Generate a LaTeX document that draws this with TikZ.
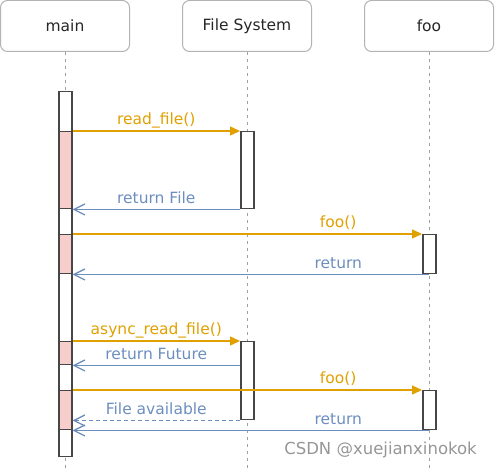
\documentclass[tikz,border=0pt]{standalone}
\usepackage{fontspec}
\setmainfont{DejaVu Sans}
\usetikzlibrary{arrows.meta}

\begin{document}
\begin{tikzpicture}[x=1pt, y=-1pt,
  head/.style={draw=headgray, rounded corners=7pt, line width=1pt, minimum width=129pt, minimum height=51pt, inner sep=0pt, font=\fontsize{15.5}{18}\selectfont, text=black!85},
  life/.style={draw=lifegray, dash pattern=on 3.5pt off 3.5pt, line width=1pt},
  actbar/.style={draw=bargray, fill=white, line width=1.5pt, minimum width=13pt, inner sep=0pt, anchor=north},
  busy/.style={actbar, fill=busypink},
  call/.style={draw=callor, line width=1.3pt, -{Triangle[length=10pt,width=9pt]}},
  reply/.style={draw=retblue, line width=1.3pt, -{Straight Barb[length=11pt,width=11pt]}},
  msg/.style={anchor=base, inner sep=0pt, yshift=6pt, font=\fontsize{15.5}{18}\selectfont}]

\definecolor{headgray}{RGB}{179,179,179}
\definecolor{lifegray}{RGB}{160,160,160}
\definecolor{bargray}{RGB}{70,70,70}
\definecolor{busypink}{RGB}{248,206,204}
\definecolor{callor}{RGB}{224,160,0}
\definecolor{retblue}{RGB}{108,142,191}
\definecolor{wmgray}{RGB}{150,150,150}

\useasboundingbox (0,0) rectangle (496,470);

% participants
\node[head] (main) at (65,26) {main};
\node[head] (fsys) at (247,26) {File System};
\node[head] (foo) at (429,26) {foo};

\coordinate (mainend) at (65,470);
\coordinate (fsysend) at (247,470);
\coordinate (fooend) at (429,470);
\draw[life] (main.south) -- (mainend);
\draw[life] (fsys.south) -- (fsysend);
\draw[life] (foo.south) -- (fooend);

% activations
\node[actbar, minimum height=365pt] (mbar) at (65.25,91) {};
\node[busy, minimum height=77pt] (p1) at (65.25,131) {};
\node[busy, minimum height=39pt] (p2) at (65.25,234) {};
\node[busy, minimum height=23pt] (p3) at (65.25,341) {};
\node[busy, minimum height=39pt] (p4) at (65.25,390) {};

\node[actbar, minimum height=77pt] (fs1) at (247.3,131) {};
\node[actbar, minimum height=78pt] (fs2) at (247.3,341) {};
\node[actbar, minimum height=39pt] (foo1) at (429.3,234) {};
\node[actbar, minimum height=39pt] (foo2) at (429.3,390) {};

% messages
\draw[call] (p1.north east) -- (fs1.north west) node[msg, midway, text=callor] {read\_file()};
\draw[reply] (fs1.south west) -- (p1.south east) node[msg, midway, text=retblue] {return File};

\draw[call] (p2.north east) -- (foo1.north west) node[msg, pos=0.76, text=callor] {foo()};
\draw[reply] (foo1.south) -- (p2.south east) node[msg, pos=0.255, text=retblue] {return};

\draw[call] (p3.north east) -- (fs2.north west) node[msg, midway, text=callor] {async\_read\_file()};
\draw[reply] (fs2.west |- p3.south) -- (p3.south east) node[msg, midway, text=retblue] {return Future};

\draw[call] (p4.north east) -- (foo2.north west) node[msg, pos=0.76, text=callor] {foo()};
\draw[reply, dash pattern=on 4pt off 3pt] (fs2.south west) -- (fs2.south west -| mbar.east) node[msg, midway, text=retblue] {File available};
\draw[reply] (foo2.south) -- (p4.south east) node[msg, pos=0.255, text=retblue] {return};

\node[text=wmgray, font=\fontsize{16.5}{20}\selectfont] (mark) at (380.5,450) {CSDN @xuejianxinokok};

\end{tikzpicture}
\end{document}
